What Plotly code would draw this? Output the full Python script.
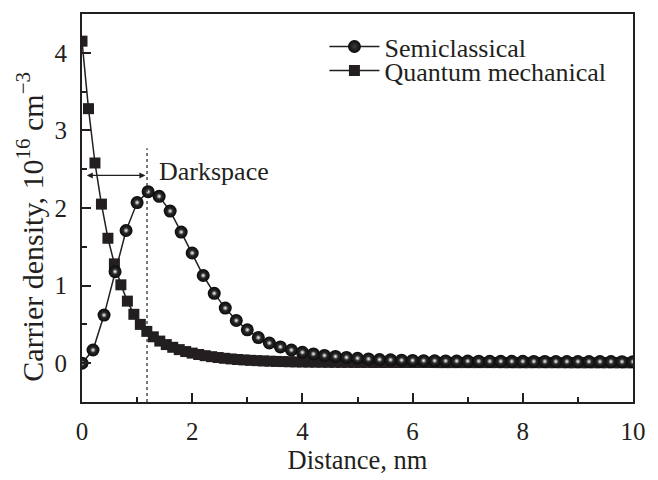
import numpy as np
import plotly.graph_objects as go

# ---- data ----
semi_x = [round(0.2 * i, 1) for i in range(51)]
semi_y = [0, 0.17, 0.62, 1.18, 1.71, 2.07, 2.21, 2.15, 1.96, 1.69,
          1.42, 1.13, 0.90, 0.71, 0.55, 0.43, 0.33, 0.26, 0.21, 0.17,
          0.14, 0.12, 0.10, 0.087, 0.075, 0.064, 0.055, 0.048, 0.043, 0.039,
          0.036, 0.033, 0.031, 0.029, 0.028, 0.027, 0.026, 0.025, 0.025, 0.024,
          0.024, 0.023, 0.023, 0.022, 0.022, 0.022, 0.021, 0.021, 0.021, 0.020,
          0.020]

quant_x = list(np.linspace(0, 10, 86))
quant_y = [4.15, 3.28, 2.58, 2.05, 1.61, 1.28, 1.01, 0.80, 0.63, 0.50,
           0.41, 0.34, 0.285, 0.24, 0.205, 0.175, 0.15, 0.13, 0.112, 0.097,
           0.084, 0.073, 0.063, 0.055, 0.048, 0.042, 0.037, 0.033, 0.029, 0.026,
           0.023, 0.021, 0.019, 0.017, 0.016, 0.015, 0.014, 0.013, 0.012, 0.012,
           0.011, 0.011, 0.010, 0.010, 0.010, 0.009, 0.009, 0.009, 0.009, 0.009,
           0.009, 0.009, 0.009, 0.009, 0.009, 0.008, 0.008, 0.008, 0.008, 0.008,
           0.008, 0.008, 0.008, 0.008, 0.008, 0.007, 0.007, 0.007, 0.007, 0.007,
           0.007, 0.007, 0.007, 0.007, 0.007, 0.006, 0.006, 0.006, 0.006, 0.006,
           0.006, 0.006, 0.006, 0.006, 0.006, 0.006]

darkspace_x = 1.18
darkspace_top = 2.77
arrow_y = 2.42
label_xy = (1.37, 2.47)

FONT = "Liberation Serif"
INK = "#231f20"

fig = go.Figure()

fig.add_trace(go.Scatter(
    x=quant_x, y=quant_y, mode="lines+markers", name="Quantum mechanical",
    line=dict(color=INK, width=1.5),
    marker=dict(symbol="square", size=11, color=INK),
    legend="legend2",
))

fig.add_trace(go.Scatter(
    x=semi_x, y=semi_y, mode="lines+markers", name="Semiclassical",
    line=dict(color=INK, width=1.5),
    marker=dict(symbol="circle", size=13, color="#0a0a0a",
                gradient=dict(type="radial", color="#3c3c3c")),
    legend="legend",
))
# sphere highlights
fig.add_trace(go.Scatter(
    x=semi_x, y=semi_y, mode="markers", showlegend=False, hoverinfo="skip",
    marker=dict(symbol="circle", size=5.5, color="#2a2a2a",
                gradient=dict(type="radial", color="#ffffff")),
))

fig.add_shape(type="line", x0=darkspace_x, x1=darkspace_x, y0=-0.5, y1=darkspace_top,
              xref="x", yref="y", line=dict(color=INK, width=1.2, dash="3px,3px"))

fig.add_annotation(x=darkspace_x - 0.03, y=arrow_y, ax=0.06, ay=arrow_y,
                   xref="x", yref="y", axref="x", ayref="y", text="",
                   showarrow=True, arrowside="end+start", arrowhead=2,
                   arrowsize=1, arrowwidth=1.2, arrowcolor=INK)
fig.add_annotation(x=label_xy[0], y=label_xy[1], xref="x", yref="y",
                   text="Darkspace", showarrow=False, xanchor="left",
                   font=dict(family=FONT, size=26, color=INK))

# y-axis title (placed as rotated text to match reference position)
fig.add_annotation(x=0, xref="paper", xanchor="center", xshift=-52,
                   y=(418 - 235) / 405, yref="paper", yanchor="middle",
                   text="Carrier density, 10<sup>16</sup> cm<sup>\u22123</sup>",
                   textangle=-90, showarrow=False,
                   font=dict(family=FONT, size=30, color=INK))

axis_common = dict(
    showline=True, linecolor=INK, linewidth=2, mirror=True,
    ticks="inside", ticklen=9, tickwidth=1.5, tickcolor=INK,
    showgrid=False, zeroline=False,
    tickfont=dict(family=FONT, size=25, color=INK),
)

fig.update_xaxes(range=[0, 10], dtick=2, tick0=0,
                 minor=dict(dtick=1, ticks="inside", ticklen=5, tickwidth=1.5, tickcolor=INK),
                 title=dict(text="Distance, nm", font=dict(family=FONT, size=26.5, color=INK), standoff=4),
                 ticklabelstandoff=6,
                 **axis_common)
fig.update_yaxes(range=[-0.5, 4.5], dtick=1, tick0=0,
                 minor=dict(dtick=0.5, ticks="inside", ticklen=5, tickwidth=1.5, tickcolor=INK),
                 ticklabelstandoff=8,
                 **axis_common)

legend_common = dict(xanchor="left", yanchor="middle", bgcolor="rgba(0,0,0,0)",
                     font=dict(family=FONT, size=26, color=INK), itemwidth=50,
                     tracegroupgap=0)
fig.update_layout(
    width=658, height=480,
    margin=dict(l=82, r=25, t=13, b=62),
    paper_bgcolor="white", plot_bgcolor="white",
    showlegend=True,
    legend=dict(x=0.44, y=0.916, **legend_common),
    legend2=dict(x=0.44, y=0.854, **legend_common),
)

fig.write_html("out.html")
